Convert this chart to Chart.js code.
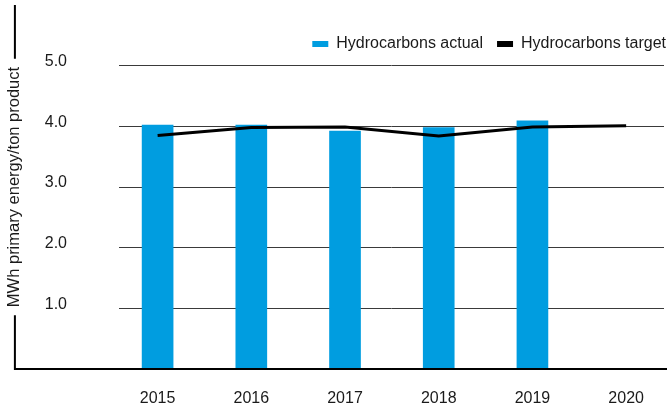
<!DOCTYPE html>
<html>
<head>
<meta charset="utf-8">
<script src="https://cdn.jsdelivr.net/npm/chart.js@4/dist/chart.umd.min.js"></script>
<style>
  html, body { margin: 0; padding: 0; background: #ffffff; }
  #wrap { width: 667px; height: 412px; position: relative; }
</style>
</head>
<body>
<div id="wrap"><canvas id="c" width="667" height="412"></canvas></div>
<script>
// ---- data ----
const years = [2015, 2016, 2017, 2018, 2019, 2020];
const xTickLabels = ['2015', '2016', '2017', '2018', '2019', '2020'];
const actualValues = [4.02, 4.02, 3.92, 3.98, 4.09, null];
const targetValues = [3.85, 3.98, 3.99, 3.84, 3.99, 4.01];
const yTickValues = [1, 2, 3, 4, 5];
const yTickLabels = ['1.0', '2.0', '3.0', '4.0', '5.0'];
const seriesNames = ['Hydrocarbons actual', 'Hydrocarbons target'];
const yAxisTitle = 'MWh primary energy/ton product';

const FONT = '"Liberation Sans", Arial, sans-serif';
const TEXT = '#1a1a1a';
const TITLE_SIZE = 16.5;
const TITLE_PAD = 5;

const toPoints = vals => years.map((x, i) => ({ x, y: vals[i] })).filter(p => p.y !== null);

// left/bottom axis frame: vertical line broken by the rotated title
const axisFrame = {
  id: 'axisFrame',
  afterDatasetsDraw(chart) {
    const { ctx, chartArea, scales } = chart;
    const ys = scales.y;
    const lineX = ys.left + TITLE_PAD + TITLE_SIZE * 1.2 / 2;
    ctx.save();
    ctx.font = TITLE_SIZE + 'px ' + FONT;
    const half = ctx.measureText(yAxisTitle).width / 2 + 8;
    const midY = (chartArea.top + chartArea.bottom) / 2;
    ctx.strokeStyle = '#000';
    ctx.lineWidth = 2;
    ctx.beginPath();
    ctx.moveTo(lineX, chartArea.top);
    ctx.lineTo(lineX, midY - half);
    ctx.moveTo(lineX, midY + half);
    ctx.lineTo(lineX, chartArea.bottom + 1);
    ctx.moveTo(lineX - 1, chartArea.bottom);
    ctx.lineTo(chart.width, chartArea.bottom);
    ctx.stroke();
    ctx.restore();
  }
};

// legend floats over the plot (takes no layout height), top right
const legendPlace = {
  id: 'legendPlace',
  beforeInit(chart) {
    const lg = chart.legend;
    if (!lg) return;
    const fit = lg.fit;
    lg.fit = function () { fit.call(this); this.height = 0; };
  },
  afterLayout(chart) {
    const lg = chart.legend;
    if (!lg) return;
    lg.left = 0;
    lg.right = chart.width + 13;
    lg.top = chart.chartArea.top + 17;
    lg.bottom = lg.top + 40;
  }
};

new Chart(document.getElementById('c'), {
  data: {
    datasets: [
      {
        type: 'bar',
        label: seriesNames[0],
        data: toPoints(actualValues),
        backgroundColor: '#009de0',
        borderWidth: 0,
        barThickness: 31,
        order: 1
      },
      {
        type: 'line',
        label: seriesNames[1],
        data: toPoints(targetValues),
        borderColor: '#000000',
        backgroundColor: '#000000',
        borderWidth: 3,
        pointRadius: 0,
        tension: 0,
        order: 0
      }
    ]
  },
  options: {
    responsive: false,
    animation: false,
    devicePixelRatio: 1,
    layout: { padding: { left: 0, right: 3, top: 5, bottom: 0 } },
    plugins: {
      tooltip: { enabled: false },
      legend: {
        position: 'top',
        align: 'end',
        labels: {
          boxWidth: 16,
          boxHeight: 6,
          padding: 14,
          color: TEXT,
          font: { family: FONT, size: 16 },
          sort: (a, b) => a.datasetIndex - b.datasetIndex,
          generateLabels: chart =>
            Chart.defaults.plugins.legend.labels.generateLabels(chart).map(l => ({ ...l, lineWidth: 0 }))
        }
      }
    },
    scales: {
      x: {
        type: 'linear',
        offset: false,
        min: 2014.588,
        max: 2020.404,
        afterBuildTicks: s => { s.ticks = years.map(v => ({ value: v })); },
        afterFit: s => { s.height = 43; s.paddingLeft = 0; s.paddingRight = 0; },
        grid: { display: false, drawTicks: false, offset: false },
        border: { display: false },
        ticks: {
          padding: 20,
          maxRotation: 0,
          color: TEXT,
          font: { family: FONT, size: 16 },
          callback: v => xTickLabels[years.indexOf(v)] ?? ''
        }
      },
      y: {
        min: 0,
        max: 6,
        afterBuildTicks: s => { s.ticks = yTickValues.map(v => ({ value: v })); },
        afterFit: s => { s.width = 119; s.paddingTop = 0; s.paddingBottom = 0; },
        grid: { color: '#3a3a3a', lineWidth: 1, drawTicks: false },
        border: { display: false },
        ticks: {
          padding: 52,
          labelOffset: -4,
          color: TEXT,
          font: { family: FONT, size: 16 },
          callback: v => yTickLabels[yTickValues.indexOf(v)] ?? ''
        },
        title: {
          display: true,
          text: yAxisTitle,
          color: TEXT,
          font: { family: FONT, size: TITLE_SIZE },
          padding: { top: TITLE_PAD, bottom: 0 }
        }
      }
    }
  },
  plugins: [axisFrame, legendPlace]
});
</script>
</body>
</html>
